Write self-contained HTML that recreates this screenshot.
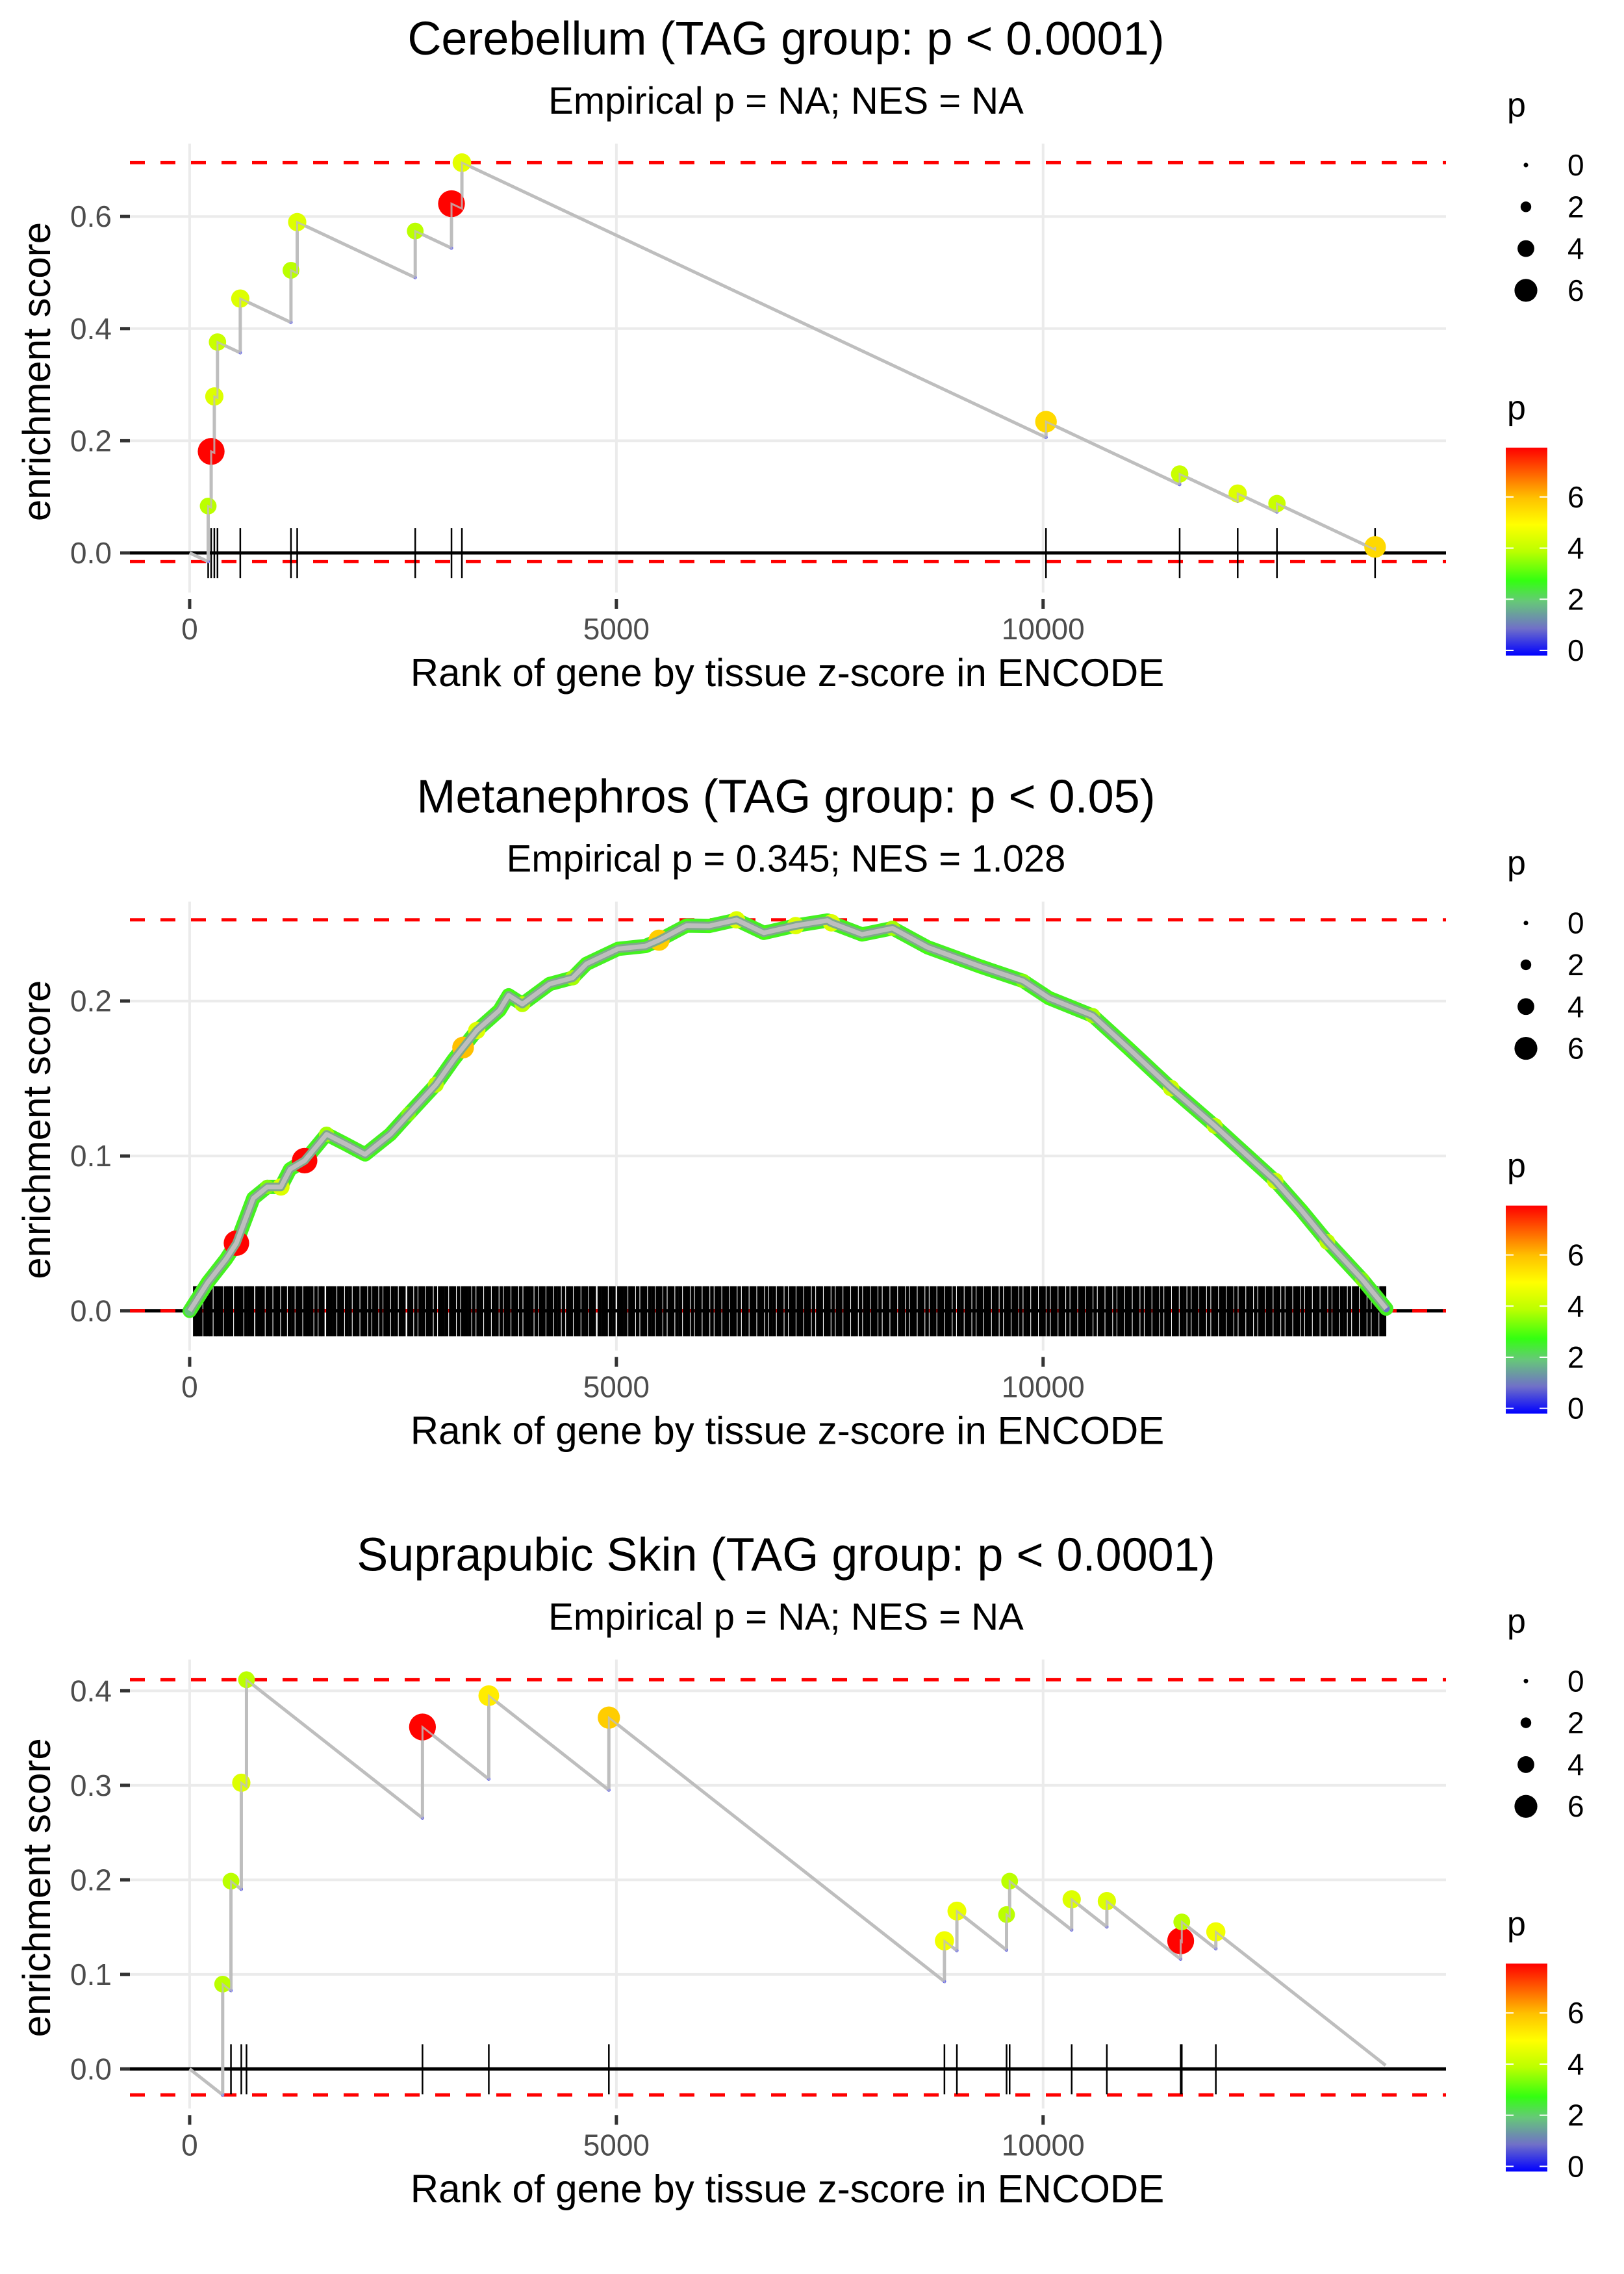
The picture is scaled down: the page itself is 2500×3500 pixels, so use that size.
<!DOCTYPE html>
<html><head><meta charset="utf-8"><style>
html,body{margin:0;padding:0;background:#fff;}
svg{display:block;font-family:"Liberation Sans",Arial,sans-serif;}
</style></head><body>
<svg id="fig" width="2500" height="3500" viewBox="0 0 2500 3500">
<defs>
<linearGradient id="pgrad" x1="0" y1="1" x2="0" y2="0">
<stop offset="0" stop-color="#0000ff"/><stop offset="0.13" stop-color="#7070c8"/><stop offset="0.26" stop-color="#66c878"/>
<stop offset="0.36" stop-color="#33ff11"/><stop offset="0.5" stop-color="#bbff00"/><stop offset="0.63" stop-color="#ffff00"/>
<stop offset="0.76" stop-color="#ffc000"/><stop offset="0.88" stop-color="#ff6000"/><stop offset="1" stop-color="#ff0000"/>
</linearGradient>
</defs>
<g id="panel0">
<text x="1210" y="84" font-size="72" text-anchor="middle">Cerebellum (TAG group: p &lt; 0.0001)</text>
<text x="1210" y="175" font-size="58" text-anchor="middle">Empirical p = NA; NES = NA</text>
</g>
<g id="panel1" transform="translate(0,1166.67)">
<text x="1210" y="84" font-size="72" text-anchor="middle">Metanephros (TAG group: p &lt; 0.05)</text>
<text x="1210" y="175" font-size="58" text-anchor="middle">Empirical p = 0.345; NES = 1.028</text>
</g>
<g id="panel2" transform="translate(0,2333.33)">
<text x="1210" y="84" font-size="72" text-anchor="middle">Suprapubic Skin (TAG group: p &lt; 0.0001)</text>
<text x="1210" y="175" font-size="58" text-anchor="middle">Empirical p = NA; NES = NA</text>
</g>
</svg>
<script>
// ---------- data ----------
const xTicks = [0, 5000, 10000];
const xTickLabels = ["0", "5000", "10000"];
const sizeLegendValues = [0, 2, 4, 6];
const colorLegendValues = [0, 2, 4, 6];
const pMax = 7.93;

// Panel 1: Cerebellum (hits)
const p1Ranks = [217, 252, 289, 326, 593, 1187, 1260, 2643, 3068, 3190, 10034, 11600, 12280, 12740, 13890];
const p1Peaks = [0.0836, 0.181, 0.279, 0.376, 0.4536, 0.504, 0.590, 0.574, 0.6228, 0.696, 0.234, 0.1407, 0.1058, 0.088, 0.0107];
const p1P = [4, 7.9, 4.5, 4.2, 4.5, 4, 4.5, 4, 7.9, 4.6, 5.6, 4.2, 4.5, 4.2, 5.6];
const p1Slope = 7.16e-5;
const p1End = 13890;
const p1YTicks = [0, 0.2, 0.4, 0.6];
const p1YDomain = [-0.0707, 0.730];

// Panel 2: Metanephros (running curve)
const p2Ranks = [0,213,426,548,746,909,1069,1176,1347,1604,1817,2056,2351,2565,2884,3098,3204,3364,3630,3737,3898,4218,4488,4648,5020,5340,5500,5822,6088,6408,6728,7100,7473,7520,7878,8235,8646,9254,9765,10070,10580,10990,11500,12010,12720,13025,13330,13740,14020];
const p2ES = [0,0.0184,0.0334,0.0437,0.0727,0.080,0.080,0.0914,0.097,0.114,0.108,0.101,0.114,0.127,0.146,0.1626,0.170,0.181,0.194,0.2037,0.198,0.211,0.215,0.224,0.2337,0.2355,0.2393,0.2487,0.2485,0.2524,0.244,0.2487,0.252,0.2505,0.243,0.247,0.2347,0.2225,0.213,0.2019,0.1906,0.170,0.1438,0.1195,0.0839,0.065,0.0446,0.0203,0.0015];
const p2P = [2,3,3,7.9,3,3.5,4.5,3,7.9,3.8,3,3,3,3.5,4,3,6,4.5,3,3,4,3,3.8,3,3,3,5.8,3,3,4.5,3,4.5,3,4.5,3,3.8,3,3,3.5,3,3.8,3,4.2,4,4.2,3,4,3.5,1];
const p2Rug = [60,95,130,180,215,250,300,330,370,420,455,490,540,580,610,660,700,735,790,830,860,910,950,1000,1040,1090,1120,1170,1210,1260,1300,1350,1390,1430,1480,1530,1560,1620,1660,1700,1750,1790,1840,1880,1930,1970,2020,2060,2110,2160,2190,2240,2290,2330,2380,2420,2470,2510,2570,2600,2650,2700,2740,2790,2830,2880,2930,2970,3010,3060,3100,3150,3200,3240,3280,3330,3380,3420,3470,3510,3560,3600,3650,3700,3740,3790,3830,3880,3930,3970,4010,4060,4110,4150,4200,4240,4290,4330,4380,4430,4470,4520,4560,4610,4650,4700,4740,4800,4840,4880,4930,4970,5030,5070,5110,5160,5200,5250,5300,5340,5390,5430,5480,5520,5570,5620,5660,5710,5750,5800,5840,5890,5940,5980,6030,6070,6120,6170,6210,6260,6300,6350,6390,6440,6490,6530,6580,6620,6670,6710,6760,6810,6850,6900,6940,6990,7040,7080,7130,7170,7220,7260,7310,7360,7400,7450,7490,7540,7590,7630,7680,7720,7770,7810,7860,7910,7950,8000,8040,8090,8140,8180,8230,8270,8320,8360,8410,8460,8500,8550,8590,8640,8690,8730,8780,8820,8870,8910,8960,9010,9050,9100,9140,9190,9240,9280,9330,9370,9420,9460,9510,9560,9600,9650,9690,9740,9790,9830,9880,9920,9970,10010,10060,10110,10150,10200,10240,10290,10340,10380,10430,10470,10520,10560,10610,10660,10700,10750,10790,10840,10890,10930,10980,11020,11070,11110,11160,11210,11250,11300,11340,11390,11440,11480,11530,11570,11620,11660,11710,11760,11800,11850,11890,11940,11990,12030,12080,12120,12170,12210,12260,12310,12350,12400,12440,12490,12540,12580,12630,12670,12720,12760,12810,12860,12900,12950,12990,13040,13090,13130,13180,13220,13270,13310,13360,13410,13450,13500,13540,13590,13640,13680,13730,13770,13820,13870,13910,13960,14000];
const p2YTicks = [0, 0.1, 0.2];
const p2YDomain = [-0.0256, 0.2642];

// Panel 3: Suprapubic skin (hits)
const p3Ranks = [387, 484, 605, 666, 2728, 3505, 4912, 8844, 8990, 9572, 9608, 10335, 10747, 11612, 11625, 12024];
const p3Peaks = [0.0897, 0.1986, 0.3027, 0.4117, 0.3617, 0.3948, 0.3716, 0.1355, 0.167, 0.1633, 0.1986, 0.1794, 0.1775, 0.1355, 0.1555, 0.145];
const p3P = [4, 4, 4.5, 4, 7.9, 5.3, 5.8, 4.8, 4.7, 4, 4, 4.5, 4.5, 7.9, 4, 4.8];
const p3Slope = 7.1e-5;
const p3End = 14013;
const p3YTicks = [0, 0.1, 0.2, 0.3, 0.4];
const p3YDomain = [-0.0419, 0.433];

const xDomain = [-700, 14721];

// ---------- helpers ----------
const NS = "http://www.w3.org/2000/svg";
function mk(tag, attrs, parent) {
  const el = document.createElementNS(NS, tag);
  for (const k in attrs) el.setAttribute(k, attrs[k]);
  parent.appendChild(el);
  return el;
}
const PL = 200, PR = 2226, PT = 221, PB = 912;
function xs(r) { return PL + (r - xDomain[0]) / (xDomain[1] - xDomain[0]) * (PR - PL); }
function makeY(dom) { return v => PT + (dom[1] - v) / (dom[1] - dom[0]) * (PB - PT); }
const cStops = [[0,[0,0,255]],[1.03,[112,112,200]],[2.06,[102,200,120]],[2.85,[51,255,17]],[4,[187,255,0]],[5,[255,255,0]],[6,[255,192,0]],[7,[255,96,0]],[7.93,[255,0,0]]];
function pColor(p) {
  p = Math.max(0, Math.min(pMax, p));
  for (let i = 1; i < cStops.length; i++) {
    if (p <= cStops[i][0]) {
      const a = cStops[i-1], b = cStops[i], t = (p - a[0]) / (b[0] - a[0]);
      const c = a[1].map((v, j) => Math.round(v + (b[1][j] - v) * t));
      return "rgb(" + c.join(",") + ")";
    }
  }
  return "rgb(255,0,0)";
}
function pRadius(p) { return 3.5 + 2.35 * Math.min(p, 7.3); }
function cbY(p) { return 1001 - p * 39.35; }

function walk(ranks, peaks, slope, end) {
  const pts = [[0, 0]], dips = [];
  let prevR = 0, prevE = 0;
  for (let i = 0; i < ranks.length; i++) {
    const d = prevE - slope * (ranks[i] - prevR);
    pts.push([ranks[i], d]); dips.push([ranks[i], d]);
    pts.push([ranks[i], peaks[i]]);
    prevR = ranks[i]; prevE = peaks[i];
  }
  if (end > prevR) pts.push([end, prevE - slope * (end - prevR)]);
  return { pts, dips };
}

function drawFrame(g, yTicks, yDom, esValues) {
  const ys = makeY(yDom);
  yTicks.forEach(t => {
    const gl = mk("line", { x1: PL, x2: PR, y1: ys(t), y2: ys(t), stroke: "#ebebeb", "stroke-width": 4 }, g);
    
    
    const tk = mk("line", { x1: 185, x2: 200, y1: ys(t), y2: ys(t), stroke: "#333", "stroke-width": 5 }, g);
    
    
    const lb = mk("text", { x: 172, y: ys(t) + 16, "font-size": 46, fill: "#4d4d4d", "text-anchor": "end" }, g);
    lb.textContent = t.toFixed(1);
    
    
  });
  xTicks.forEach((t, i) => {
    const gl = mk("line", { x1: xs(t), x2: xs(t), y1: PT, y2: PB, stroke: "#ebebeb", "stroke-width": 4 }, g);
    
    
    const tk = mk("line", { x1: xs(t), x2: xs(t), y1: 922, y2: 937, stroke: "#333", "stroke-width": 5 }, g);
    
    
    const lb = mk("text", { x: xs(t), y: 984, "font-size": 46, fill: "#4d4d4d", "text-anchor": "middle" }, g);
    lb.textContent = xTickLabels[i];
    
    
  });
  const zl = mk("line", { x1: PL, x2: PR, y1: ys(0), y2: ys(0), stroke: "#000", "stroke-width": 5 }, g);
  
  
  const mx = Math.max(...esValues), mn = Math.min(...esValues);
  [mx, mn].forEach((v, i) => {
    const dl = mk("line", { x1: PL, x2: PR, y1: ys(v), y2: ys(v), stroke: "#ff0000", "stroke-width": 5, "stroke-dasharray": "23 24" }, g);
    
    
  });
  const xt = mk("text", { x: 1212, y: 1056, "font-size": 60, "text-anchor": "middle" }, g);
  xt.textContent = "Rank of gene by tissue z-score in ENCODE";
  
  
  const yt = mk("text", { transform: "translate(77,572) rotate(-90)", "font-size": 60, "text-anchor": "middle" }, g);
  yt.textContent = "enrichment score";
  
  
  return ys;
}

function drawRug(g, ranks, width) {
  ranks.forEach(r => {
    const l = mk("line", { x1: xs(r), x2: xs(r), y1: 813, y2: 890, stroke: "#000", "stroke-width": width }, g);
    
    
  });
}

function drawLegends(g) {
  const t1 = mk("text", { x: 2320, y: 179, "font-size": 52 }, g);
  t1.textContent = "p";
  
  
  sizeLegendValues.forEach((v, i) => {
    const cy = 254 + i * 64.3;
    const c = mk("circle", { cx: 2349, cy: cy, r: 3.5 + 2.35 * v, fill: "#000" }, g);
    
    
    const l = mk("text", { x: 2413, y: cy + 16, "font-size": 46 }, g);
    l.textContent = String(v);
    
    
  });
  const t2 = mk("text", { x: 2320, y: 645, "font-size": 52 }, g);
  t2.textContent = "p";
  
  
  const bar = mk("rect", { x: 2318, y: cbY(pMax), width: 64, height: 1009 - cbY(pMax), fill: "url(#pgrad)" }, g);
  
  
  colorLegendValues.forEach(v => {
    const y = cbY(v);
    [[2318, 2330], [2370, 2382]].forEach(xx => {
      const tk = mk("line", { x1: xx[0], x2: xx[1], y1: y, y2: y, stroke: "#fff", "stroke-width": 2 }, g);
      
      
    });
    const l = mk("text", { x: 2413, y: y + 16, "font-size": 46 }, g);
    l.textContent = String(v);
    
    
  });
}

function drawHitPanel(g, ranks, peaks, pv, slope, end, yTicks, yDom) {
  const w = walk(ranks, peaks, slope, end);
  const ys = drawFrame(g, yTicks, yDom, w.pts.map(p => p[1]));
  drawRug(g, ranks, 2.5);
  const line = mk("polyline", { points: w.pts.map(p => xs(p[0]) + "," + ys(p[1])).join(" "), fill: "none", stroke: "#bebebe", "stroke-width": 5, "stroke-linejoin": "round" }, g);
  
  
  w.dips.forEach(d => {
    const c = mk("circle", { cx: xs(d[0]), cy: ys(d[1]), r: 2.5, fill: "#5050ff" }, g);
    
    
  });
  ranks.forEach((r, i) => {
    const c = mk("circle", { cx: xs(r), cy: ys(peaks[i]), r: pRadius(pv[i]), fill: pColor(pv[i]) }, g);
    
    
  });
  const over = mk("polyline", { points: w.pts.map(p => xs(p[0]) + "," + ys(p[1])).join(" "), fill: "none", stroke: "#bebebe", "stroke-width": 3, "stroke-opacity": 0.8 }, g);
  
  
  drawLegends(g);
}

drawHitPanel(document.getElementById("panel0"), p1Ranks, p1Peaks, p1P, p1Slope, p1End, p1YTicks, p1YDomain);
drawHitPanel(document.getElementById("panel2"), p3Ranks, p3Peaks, p3P, p3Slope, p3End, p3YTicks, p3YDomain);

(function () {
  const g = document.getElementById("panel1");
  const ys = drawFrame(g, p2YTicks, p2YDomain, p2ES);
  drawRug(g, p2Rug, 5.5);
  const pts = p2Ranks.map((r, i) => xs(r) + "," + ys(p2ES[i])).join(" ");
  const band = mk("polyline", { points: pts, fill: "none", stroke: "#44f022", "stroke-width": 22, "stroke-linejoin": "round", "stroke-linecap": "round" }, g);
  
  
  p2Ranks.forEach((r, i) => {
    const c = mk("circle", { cx: xs(r), cy: ys(p2ES[i]), r: pRadius(p2P[i]) * 0.95, fill: pColor(p2P[i]) }, g);
    
    
  });
  const mid = mk("polyline", { points: pts, fill: "none", stroke: "#7fa88a", "stroke-width": 13, "stroke-linejoin": "round" }, g);
  
  
  const line = mk("polyline", { points: pts, fill: "none", stroke: "#bebebe", "stroke-width": 7, "stroke-linejoin": "round" }, g);
  
  
  drawLegends(g);
})();
</script>
</body></html>
